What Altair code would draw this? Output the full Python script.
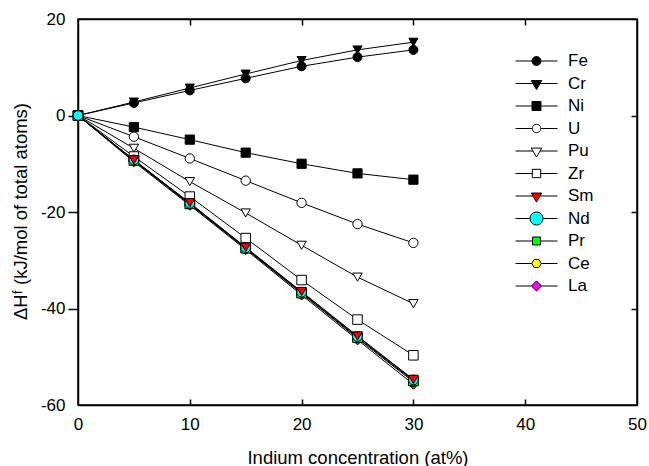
import math
import altair as alt
import pandas as pd

# ---------------- data ----------------
conc = [0, 5, 10, 15, 20, 25, 30]
metals = ["Fe", "Cr", "Ni", "U", "Pu", "Zr", "Sm", "Nd", "Pr", "Ce", "La"]
dH = {
    "Fe": [0, 2.6, 5.2, 7.7, 10.2, 12.1, 13.6],
    "Cr": [0, 2.8, 5.7, 8.6, 11.4, 13.6, 15.2],
    "Ni": [0, -2.4, -5.0, -7.7, -10.0, -12.0, -13.3],
    "U":  [0, -4.4, -8.9, -13.5, -18.1, -22.5, -26.4],
    "Pu": [0, -6.8, -13.7, -20.2, -26.9, -33.5, -39.0],
    "Zr": [0, -8.5, -16.8, -25.4, -34.1, -42.3, -49.7],
    "Sm": [0, -9.2, -18.1, -27.3, -36.5, -45.7, -54.7],
    "Nd": [0, -9.2, -18.2, -27.4, -36.6, -45.8, -54.8],
    "Pr": [0, -9.3, -18.3, -27.5, -36.8, -46.0, -55.0],
    "Ce": [0, -9.4, -18.4, -27.6, -36.9, -46.2, -55.2],
    "La": [0, -9.6, -18.6, -27.8, -37.2, -46.5, -55.7],
}
draw_order = ["Fe", "Cr", "Ni", "U", "Pu", "Zr", "La", "Ce", "Pr", "Nd", "Sm"]
fills = ["black", "black", "black", "white", "white", "white",
         "#ff0000", "#00ffff", "#00ff00", "#ffff00", "#ff00ff"]
strokes = ["black"] * len(metals)

x_ticks = [0, 10, 20, 30, 40, 50]
y_ticks = [20, 0, -20, -40, -60]

rows = []
for m in draw_order:
    for c, v in zip(conc, dH[m]):
        rows.append({"metal": m, "x": c, "y": v})
# the Nd marker sits on top at the common origin
origin_nd = [r for r in rows if r["metal"] == "Nd" and r["x"] == 0]
rows = [r for r in rows if not (r["metal"] == "Nd" and r["x"] == 0)] + origin_nd
df = pd.DataFrame(rows)

# ---------------- marker shapes ----------------
def poly(pts):
    return "M" + "L".join(f"{px:.3f},{py:.3f}" for px, py in pts) + "Z"

def circle_pts(r, n=28):
    return [(r * math.cos(2 * math.pi * k / n), r * math.sin(2 * math.pi * k / n)) for k in range(n)]

def hex_pts(r):
    return [(r * math.cos(math.pi * k / 3), r * math.sin(math.pi * k / 3)) for k in range(6)]

hex_marker = poly(hex_pts(1.0))

def legend_sym(pts, cut):
    return f"M-1,0L{-cut:.3f},0M{cut:.3f},0L1,0" + poly(pts)

def tri_down(hw, top, bot):
    return [(-hw, -top), (hw, -top), (0, bot)]

def sq(h):
    return [(-h, -h), (h, -h), (h, h), (-h, h)]

def diamond(h):
    return [(-h, 0), (0, -h), (h, 0), (0, h)]

tri_cut = 0.25 * 0.29 / 0.43
legend_shapes = [
    legend_sym(circle_pts(0.214), 0.214),             # Fe
    legend_sym(tri_down(0.25, 0.14, 0.29), tri_cut),  # Cr
    legend_sym(sq(0.214), 0.214),                     # Ni
    legend_sym(circle_pts(0.2), 0.2),                 # U
    legend_sym(tri_down(0.25, 0.14, 0.29), tri_cut),  # Pu
    legend_sym(sq(0.2), 0.2),                         # Zr
    legend_sym(tri_down(0.25, 0.14, 0.29), tri_cut),  # Sm
    legend_sym(circle_pts(0.31), 0.31),               # Nd
    legend_sym(sq(0.19), 0.19),                       # Pr
    legend_sym(hex_pts(0.224), 0.224),                # Ce
    legend_sym(diamond(0.24), 0.24),                  # La
]
plot_shapes = ["circle", "triangle-down", "square", "circle", "triangle-down", "square",
               "triangle-down", "circle", "square", hex_marker, "diamond"]
plot_sizes = [81, 100, 81, 72, 100, 81, 100, 170, 64, 81, 100]

FONT = "Liberation Sans"
W, H = 559, 386
DW = 1.5

xscale = alt.Scale(domain=[0, 50], nice=False, zero=False)
yscale = alt.Scale(domain=[-60, 20], nice=False, zero=False)

base = alt.Chart(df)

lines = base.mark_line(color="black", strokeWidth=1).encode(
    x=alt.X("x:Q", scale=xscale, axis=alt.Axis(
        values=x_ticks, ticks=False, domain=True, domainColor="black", domainWidth=DW,
        grid=False, labelFlush=False,
        labelFont=FONT, labelFontSize=17, labelColor="black", labelPadding=11,
        labelExpr="datum.value + ''",
        title="Indium concentration (at%)", titleFont=FONT, titleFontSize=18.5,
        titleFontWeight="normal", titleColor="black",
        titleX=W / 2, titleY=58, titleBaseline="alphabetic", titleAlign="center")),
    y=alt.Y("y:Q", scale=yscale, axis=alt.Axis(
        values=y_ticks, domain=True, domainColor="black", domainWidth=DW,
        grid=False, tickSize=10, tickColor="black", tickWidth=1.5, labelFlush=False,
        tickOpacity={"condition": {"test": "datum.value == 20 || datum.value == -60", "value": 0}, "value": 1},
        labelFont=FONT, labelFontSize=17, labelColor="black", labelPadding=3,
        labelExpr="datum.value + ''",
        title="ΔHᶠ (kJ/mol of total atoms)", titleFont=FONT, titleFontSize=18.5,
        titleFontWeight="normal", titleColor="black", titleAngle=270,
        titleX=-51.5, titleY=192, titleBaseline="alphabetic", titleAlign="center")),
    detail="metal:N",
)

points = base.mark_point(filled=True, stroke="black", strokeWidth=1, opacity=1).encode(
    x=alt.X("x:Q", scale=xscale, axis=alt.Axis(
        orient="top", offset=-H, values=[10, 20, 30, 40], labels=False, domain=False,
        grid=False, tickSize=6, tickColor="black", tickWidth=1.5, title=None)),
    y=alt.Y("y:Q", scale=yscale, axis=alt.Axis(
        orient="left", offset=-W, values=[-40, -20, 0], labels=False,
        domain=True, domainColor="black", domainWidth=DW,
        grid=False, tickSize=6, tickColor="black", tickWidth=1.5, title=None)),
    shape=alt.Shape("metal:N", scale=alt.Scale(domain=metals, range=plot_shapes), legend=None),
    fill=alt.Fill("metal:N", scale=alt.Scale(domain=metals, range=fills), legend=None),
    size=alt.Size("metal:N", scale=alt.Scale(domain=metals, range=plot_sizes), legend=None),
)

legend_cfg = dict(
    title=None, orient="none", legendX=437, legendY=33,
    symbolSize=1764, symbolStrokeColor="black", symbolStrokeWidth=1, symbolOpacity=1,
    labelFont=FONT, labelFontSize=17, labelColor="black",
    labelOffset=10, rowPadding=4.5, padding=0, clipHeight=18,
)

legend_layer = base.transform_filter("datum.x > 1000").mark_point(
    filled=True, strokeWidth=1, opacity=1).encode(
    x=alt.X("x:Q", scale=xscale, axis=alt.Axis(
        orient="bottom", offset=-H, values=[10, 20, 30, 40], labels=False,
        domain=True, domainColor="black", domainWidth=DW,
        grid=False, tickSize=6, tickColor="black", tickWidth=1.5, title=None)),
    y=alt.Y("y:Q", scale=yscale, axis=None),
    shape=alt.Shape("metal:N", scale=alt.Scale(domain=metals, range=legend_shapes),
                    legend=alt.Legend(**legend_cfg)),
    fill=alt.Fill("metal:N", scale=alt.Scale(domain=metals, range=fills),
                  legend=alt.Legend(**legend_cfg)),
    stroke=alt.Stroke("metal:N", scale=alt.Scale(domain=metals, range=strokes),
                      legend=alt.Legend(**legend_cfg)),
)

chart = alt.layer(lines, points, legend_layer).resolve_axis(
    x="independent", y="independent"
).resolve_scale(
    shape="independent", fill="independent", size="independent", stroke="independent"
).properties(
    width=W, height=H,
    autosize=alt.AutoSizeParams(type="none"),
    padding={"left": 78, "top": 19, "right": 12, "bottom": 61},
    background="white",
).configure_view(
    stroke="black", strokeWidth=DW
)

chart.save("out.html", embed_options={"renderer": "svg", "actions": False})
